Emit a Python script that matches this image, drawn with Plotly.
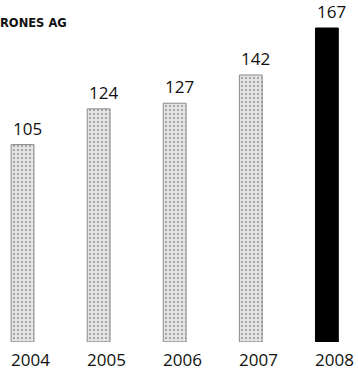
import plotly.graph_objects as go

years = ["2004", "2005", "2006", "2007", "2008"]
values = [105, 124, 127, 142, 167]
title_text = "RONES AG"

FONT = "Open Sans"

pos = list(range(len(years)))
fills = ["#e4e4e4"] * 4 + ["#000000"]
fgs = ["#808080"] * 4 + ["#000000"]
shapes = ["."] * 4 + [""]

fig = go.Figure()
fig.add_trace(go.Bar(
    x=pos, y=values, width=0.30,
    marker=dict(
        color=fills,
        line=dict(color=["#8a8a8a"] * 4 + ["#000000"], width=1),
        pattern=dict(shape=shapes, fgcolor=fgs, bgcolor=fills, size=4, solidity=0.22, fillmode="overlay"),
    ),
    hoverinfo="skip",
))

# value labels above bars
for i, v in zip(pos, values):
    fig.add_annotation(x=i, y=v, text=str(v), showarrow=False, xshift=5, yshift=3,
                       yanchor="bottom", font=dict(family=FONT, size=17, color="#111"))

# year labels below bars
for i, yr in zip(pos, years):
    fig.add_annotation(x=i, y=0, text=yr, showarrow=False, xshift=8, yshift=-4,
                       yanchor="top", font=dict(family=FONT, size=17, color="#111"))

fig.add_annotation(xref="paper", yref="paper", x=0, y=1, xanchor="left", yanchor="top",
                   xshift=-2, yshift=-14, text="<b>" + title_text + "</b>", showarrow=False,
                   font=dict(family="DejaVu Sans", size=11.5, color="#111"))

fig.update_layout(
    width=358, height=372,
    margin=dict(l=0, r=0, t=0, b=30),
    plot_bgcolor="white", paper_bgcolor="white",
    showlegend=False,
    xaxis=dict(range=[-0.296, 4.409], visible=False),
    yaxis=dict(range=[0, 181.9], visible=False),
)

fig.write_html("out.html", config={"displayModeBar": False, "staticPlot": True},
               post_script="document.body.style.margin='0';")
